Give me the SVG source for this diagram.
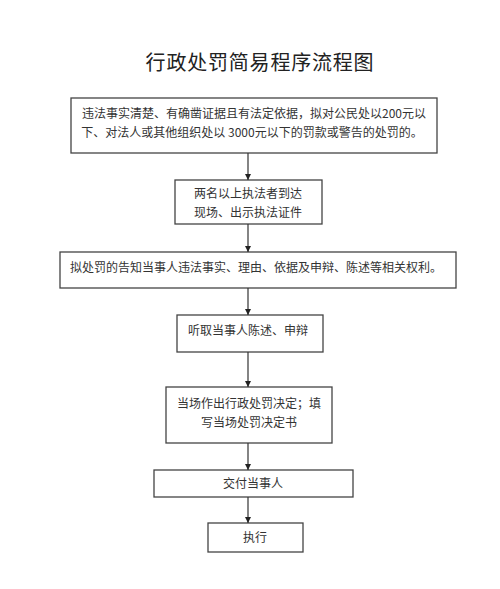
<svg xmlns="http://www.w3.org/2000/svg" width="500" height="589" viewBox="0 0 500 589">
<style>
.box{fill:#fff;stroke:#444;stroke-width:1.3}
.t{font-family:"Noto Sans CJK SC","Liberation Sans",sans-serif;font-size:12px;fill:#333;text-anchor:middle}
.title{font-family:"Noto Sans CJK SC","Liberation Sans",sans-serif;font-size:20px;fill:#222;text-anchor:middle;letter-spacing:0.8px}
.c{stroke:#333;stroke-width:1.2;fill:none}
</style>
<defs>
<marker id="ah" viewBox="0 0 10 10" refX="10" refY="5" markerWidth="6" markerHeight="6" markerUnits="userSpaceOnUse" orient="auto">
<path d="M0,0 L10,5 L0,10 z" fill="#222"/>
</marker>
</defs>
<rect width="500" height="589" fill="#fff"/>
<text class="title" x="260" y="70">行政处罚简易程序流程图</text>
<g id="n1"><rect class="box" x="71" y="98" width="366" height="55"/>
<text class="t" x="254" y="118">违法事实清楚、有确凿证据且有法定依据，拟对公民处以200元以</text>
<text class="t" x="252" y="137">下、对法人或其他组织处以 3000元以下的罚款或警告的处罚的。</text></g>
<g id="n2"><rect class="box" x="175" y="180" width="147" height="44"/>
<text class="t" x="248" y="198">两名以上执法者到达</text>
<text class="t" x="248" y="217">现场、出示执法证件</text></g>
<g id="n3"><rect class="box" x="60" y="252" width="396" height="36"/>
<text class="t" x="256" y="272">拟处罚的告知当事人违法事实、理由、依据及申辩、陈述等相关权利。</text></g>
<g id="n4"><rect class="box" x="177" y="315" width="146" height="37"/>
<text class="t" x="248" y="335">听取当事人陈述、申辩</text></g>
<g id="n5"><rect class="box" x="166" y="387" width="166" height="56"/>
<text class="t" x="249" y="408">当场作出行政处罚决定；填</text>
<text class="t" x="249" y="427">写当场处罚决定书</text></g>
<g id="n6"><rect class="box" x="154" y="470" width="199" height="27"/>
<text class="t" x="253" y="488">交付当事人</text></g>
<g id="n7"><rect class="box" x="208" y="523" width="95" height="29"/>
<text class="t" x="255" y="542">执行</text></g>
<g id="connectors">
<line class="c" x1="248" y1="153" x2="248" y2="180" marker-end="url(#ah)"/>
<line class="c" x1="248" y1="224" x2="248" y2="252" marker-end="url(#ah)"/>
<line class="c" x1="248" y1="288" x2="248" y2="315" marker-end="url(#ah)"/>
<line class="c" x1="248" y1="352" x2="248" y2="387" marker-end="url(#ah)"/>
<line class="c" x1="248" y1="443" x2="248" y2="470" marker-end="url(#ah)"/>
<line class="c" x1="248" y1="497" x2="248" y2="523" marker-end="url(#ah)"/>
</g>
</svg>
